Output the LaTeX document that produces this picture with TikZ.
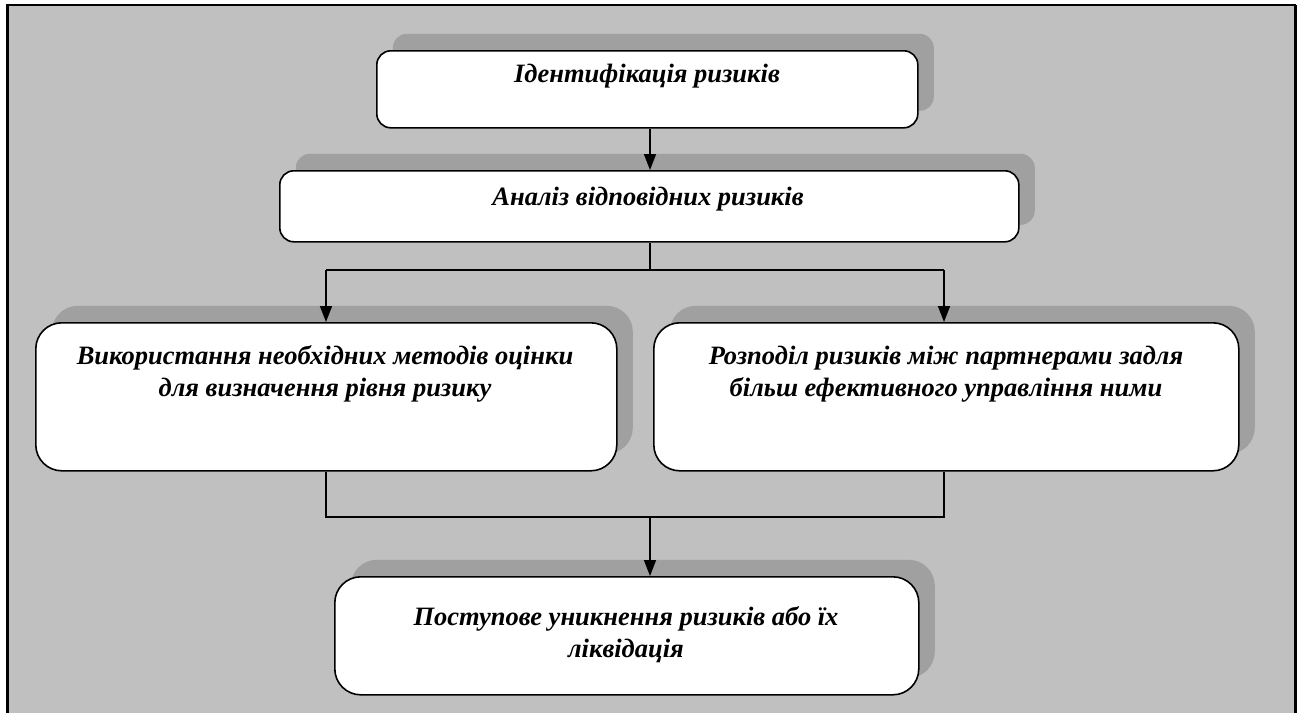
\documentclass[tikz,border=0pt]{standalone}
\usepackage{fontspec}
\setmainfont{Liberation Serif}
\usetikzlibrary{arrows.meta,shadows}
\definecolor{panel}{HTML}{C0C0C0}
\definecolor{shade}{HTML}{A0A0A0}
\tikzset{
  box/.style={draw=black, line width=1.6pt, fill=white, anchor=north west,
    inner sep=0pt, rounded corners=#1,
    general shadow={fill=shade, draw=none, shadow xshift=16pt, shadow yshift=17pt}},
  box/.default=14pt,
  lbl/.style={align=center, inner sep=0pt,
    font=\fontsize{26.5}{32}\selectfont\bfseries\itshape},
  link/.style={line width=1.6pt, draw=black},
  arr/.style={link, -{Triangle[length=16pt,width=12pt]}},
}
\begin{document}
\begin{tikzpicture}[x=1pt, y=-1pt]
  \useasboundingbox (0,0) rectangle (1300,713);
  % grey panel with its frame (no line along the bottom)
  \fill[panel] (7,5) rectangle (1295,713);
  \draw[line width=3pt] (7,713) -- (7,5);
  \draw[line width=2pt] (6,5) -- (1296,5);
  \draw[line width=3pt] (1295,5) -- (1295,713);

  % boxes
  \node[box, minimum width=541pt, minimum height=77pt]  (b1) at (376,50)  {};
  \node[box, minimum width=739pt, minimum height=71pt]  (b2) at (279,170) {};
  \node[box=26pt, minimum width=581pt, minimum height=148pt] (b3) at (35,322)  {};
  \node[box=26pt, minimum width=585pt, minimum height=148pt] (b4) at (653,322) {};
  \node[box=26pt, minimum width=584pt, minimum height=118pt] (b5) at (334,576) {};

  % texts
  \node[lbl] (t1) at (647,76)  {Ідентифікація ризиків};
  \node[lbl] (t2) at (648,199) {Аналіз відповідних ризиків};
  \node[lbl] (t3) at (325,374) {Використання необхідних методів оцінки\\для визначення рівня ризику};
  \node[lbl] (t4) at (946,374) {Розподіл ризиків між партнерами задля\\більш ефективного управління ними};
  \node[lbl] (t5) at (626,635) {Поступове уникнення ризиків або їх\\ліквідація};

  % connectors
  \coordinate (s1) at (650,270);
  \coordinate (sl) at (326,270);
  \coordinate (sr) at (944,270);
  \coordinate (jl) at (326,517);
  \coordinate (jr) at (944,517);
  \coordinate (jm) at (650,517);

  \draw[arr] (b1.south -| s1) -- (b2.north -| s1);
  \draw[link] (b2.south -| s1) -- (s1);
  \draw[link] (sl) -- (sr);
  \draw[arr] (sl) -- (b3.north -| sl);
  \draw[arr] (sr) -- (b4.north -| sr);
  \draw[link] (b3.south -| jl) -- (jl) -- (jr) -- (b4.south -| jr);
  \draw[arr] (jm) -- (b5.north -| jm);
\end{tikzpicture}
\end{document}
